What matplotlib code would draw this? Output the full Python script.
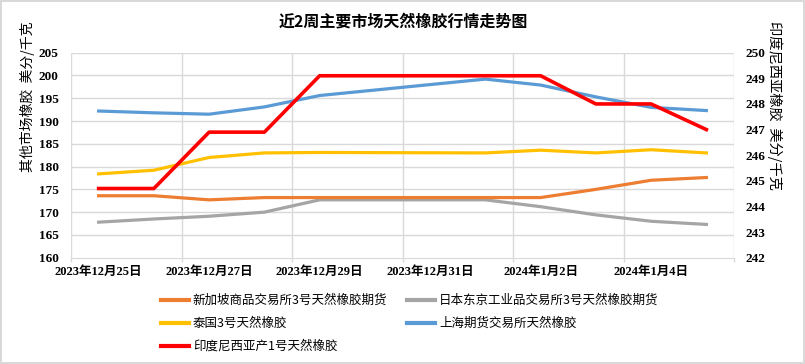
import numpy as np
import matplotlib
matplotlib.use("Agg")
import matplotlib.pyplot as plt
from matplotlib.lines import Line2D
from matplotlib.font_manager import FontProperties

plt.rcParams['font.family'] = ['Noto Sans CJK SC', 'DejaVu Sans']

title = "近2周主要市场天然橡胶行情走势图"
dates = ['2023-12-25', '2023-12-26', '2023-12-27', '2023-12-28', '2023-12-29',
         '2024-01-01', '2024-01-02', '2024-01-03', '2024-01-04', '2024-01-05']
sgx = [173.6, 173.6, 172.7, 173.2, 173.2, 173.2, 173.2, 175.0, 177.0, 177.6]
tocom = [167.8, 168.5, 169.1, 170.0, 172.7, 172.7, 171.2, 169.4, 168.0, 167.3]
thai = [178.4, 179.2, 182.0, 183.0, 183.1, 183.0, 183.6, 183.0, 183.7, 183.0]
shfe = [192.2, 191.8, 191.5, 193.1, 195.6, 199.2, 197.9, 195.3, 193.0, 192.3]
indo = [244.7, 244.7, 246.9, 246.9, 249.1, 249.1, 249.1, 248.0, 248.0, 247.0]

series_names = ['新加坡商品交易所3号天然橡胶期货', '日本东京工业品交易所3号天然橡胶期货',
                '泰国3号天然橡胶', '上海期货交易所天然橡胶', '印度尼西亚产1号天然橡胶']
colors = ['#ED7D31', '#A5A5A5', '#FFC000', '#5B9BD5', '#FF0000']

tick_dates = ['2023-12-25', '2023-12-27', '2023-12-29', '2023-12-31', '2024-01-02', '2024-01-04']
tick_labels = ['2023年12月25日', '2023年12月27日', '2023年12月29日', '2023年12月31日',
               '2024年1月2日', '2024年1月4日']
left_label = '其他市场橡胶  美分/千克'
right_label = '印度尼西亚橡胶  美分/千克'

base = np.datetime64('2023-12-25')
x = (np.array(dates, dtype='datetime64[D]') - base).astype(float)
xt = (np.array(tick_dates, dtype='datetime64[D]') - base).astype(float)

fig = plt.figure(figsize=(8.05, 3.64), dpi=100)
fig.patch.set_edgecolor('#d9d9d9')
fig.patch.set_linewidth(1.5)

ax = fig.add_axes([71/805, 1-257.7/364, (734-71)/805, (257.7-52.7)/364])
ax2 = ax.twinx()

xmin, xmax = -0.5, 11.5
ax.set_xlim(xmin, xmax)
ax.set_ylim(160, 205)
ax.set_yticks(np.arange(160, 206, 5))
ax2.set_ylim(242, 250)
ax2.set_yticks(np.arange(242, 251, 1))

grid_c = '#d9d9d9'
for y in np.arange(165, 206, 5):
    ax.axhline(y, color=grid_c, lw=1, zorder=0)
gridx = np.arange(xmin, xmax + 0.01, 2)
for g in gridx:
    ax.axvline(g, color=grid_c, lw=1, zorder=0)

for sp in ['top', 'left', 'right']:
    ax.spines[sp].set_visible(False)
    ax2.spines[sp].set_visible(False)
ax.spines['bottom'].set_color(grid_c)
ax2.spines['bottom'].set_visible(False)

lw = 2.3
ax.plot(x, sgx, color=colors[0], lw=lw, zorder=3, solid_joinstyle='round')
ax.plot(x, tocom, color=colors[1], lw=lw, zorder=2, solid_joinstyle='round')
ax.plot(x, thai, color=colors[2], lw=lw, zorder=3, solid_joinstyle='round')
ax.plot(x, shfe, color=colors[3], lw=lw, zorder=3, solid_joinstyle='round')
ax2.plot(x, indo, color=colors[4], lw=2.6, zorder=4, solid_joinstyle='round')

numfont = dict(family=['Liberation Serif', 'Noto Sans CJK SC'], weight='bold', size=9)
ax.set_xticks(xt)
ax.set_xticklabels(tick_labels, fontdict=numfont)
ax.set_xticks(gridx, minor=True)
ax.tick_params(axis='x', which='major', length=0, pad=6)
ax.tick_params(axis='x', which='minor', length=3, width=1, color=grid_c)
ax.tick_params(axis='y', length=0, pad=9)
ax2.tick_params(axis='y', length=0, pad=8)
fp = FontProperties(family='Liberation Serif', weight='bold', size=9.5)
for lab in ax.get_yticklabels():
    lab.set_fontproperties(fp)
for lab in ax2.get_yticklabels():
    lab.set_fontproperties(fp)

fig.text(403/805, 1-22/364, title, ha='center', va='center', fontsize=11.5, weight='bold')
fig.text(27.5/805, 1-97/364, left_label, rotation=90, ha='center', va='center', fontsize=10)
fig.text(775/805, 1-105/364, right_label, rotation=270, ha='center', va='center', fontsize=10.3)

handles = [Line2D([], [], color=colors[i], lw=3) for i in range(5)]
order = [0, 2, 4, 1, 3]
leg = fig.legend([handles[i] for i in order], [series_names[i] for i in order],
                 ncol=2, loc='upper left', bbox_to_anchor=(161/805, 1-294/364),
                 frameon=False, fontsize=9, handlelength=2.2, handletextpad=0.35,
                 columnspacing=1.6, labelspacing=0.8, borderaxespad=0, borderpad=0)

fig.savefig('out.png', dpi=100)
